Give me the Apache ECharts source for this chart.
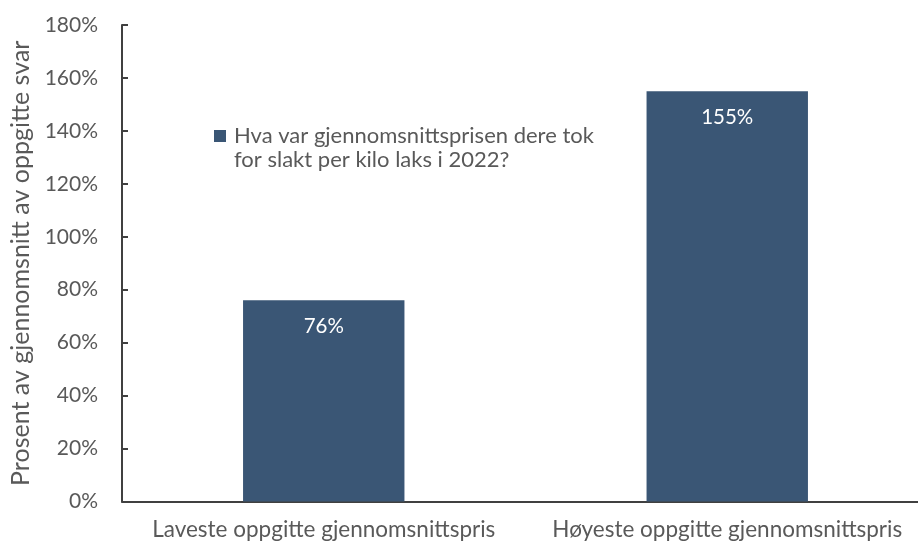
<!DOCTYPE html>
<html>
<head>
<meta charset="utf-8">
<script src="https://cdn.jsdelivr.net/npm/echarts@6/dist/echarts.min.js"></script>
<style>
  html, body { margin: 0; padding: 0; background: #fff; }
</style>
</head>
<body>
<div id="myChart" style="width: 918px; height: 544px;"></div>
<script>
// data
const categories = ['Laveste oppgitte gjennomsnittspris', 'Høyeste oppgitte gjennomsnittspris'];
const seriesName = 'Hva var gjennomsnittsprisen dere tok\nfor slakt per kilo laks i 2022?';
const values = [76, 155];
const yTicks = [0, 180, 20]; // min, max, step

const font = 'Lato, "Open Sans", sans-serif';

let myChart = echarts.init(document.getElementById('myChart'));
myChart.setOption({
    animation: false,
    grid: {
        left: 122,
        width: 807,
        top: 25,
        bottom: 42.5,
        outerBoundsMode: 'none'
    },
    legend: {
        left: 214,
        top: 100,
        padding: 0,
        icon: 'rect',
        itemWidth: 12,
        itemHeight: 12,
        itemGap: 0,
        // empty first line keeps the square level with the first text line
        formatter: function (name) { return '\n' + name; },
        textStyle: {
            color: '#595959',
            fontSize: 22,
            fontFamily: font,
            lineHeight: 24,
            padding: [0, 0, 0, 3]
        },
        data: [seriesName]
    },
    xAxis: {
        type: 'category',
        data: categories,
        axisLine: { lineStyle: { color: '#404040', width: 2 } },
        axisTick: { show: false },
        axisLabel: {
            interval: 0,
            color: '#595959',
            fontSize: 22.5,
            fontFamily: font,
            margin: 17
        }
    },
    yAxis: {
        type: 'value',
        min: yTicks[0],
        max: yTicks[1],
        interval: yTicks[2],
        name: 'Prosent av gjennomsnitt av oppgitte svar',
        nameLocation: 'middle',
        nameGap: 86,
        nameTextStyle: {
            color: '#595959',
            fontSize: 25,
            fontFamily: font
        },
        axisLine: { show: true, lineStyle: { color: '#404040', width: 2 } },
        axisTick: { show: true, inside: true, length: 6, lineStyle: { color: '#404040', width: 2 } },
        splitLine: { show: false },
        axisLabel: {
            color: '#595959',
            fontSize: 21,
            fontFamily: font,
            margin: 24,
            formatter: '{value}%'
        }
    },
    series: [
        {
            name: seriesName,
            type: 'bar',
            barWidth: '40%',
            itemStyle: { color: '#3a5675' },
            label: {
                show: true,
                position: 'insideTop',
                distance: 16,
                color: '#fff',
                fontSize: 20.5,
                fontFamily: font,
                formatter: '{c}%'
            },
            data: values
        }
    ]
});
</script>
</body>
</html>
